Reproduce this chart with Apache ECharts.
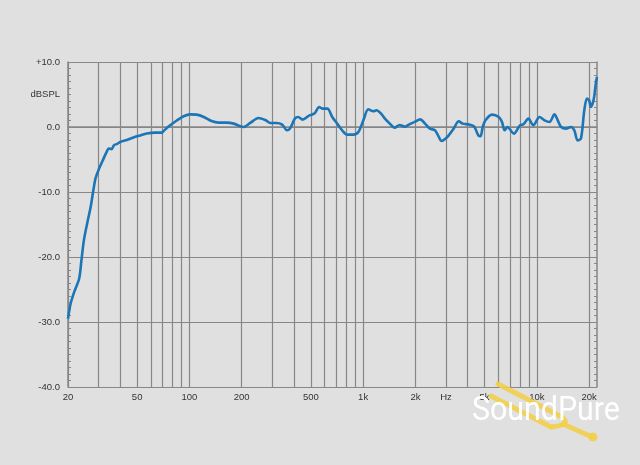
<!DOCTYPE html>
<html>
<head>
<meta charset="utf-8">
<script src="https://cdn.jsdelivr.net/npm/echarts@6/dist/echarts.min.js"></script>
<style>
html,body{margin:0;padding:0;background:#e0e0e0;}
#c{width:640px;height:465px;}
</style>
</head>
<body>
<div id="c"></div>
<script>
// Frequency (Hz) and level (dBSPL)
var freqs = [20, 20.7, 21.7, 23.2, 23.9, 24.7, 25.8, 27, 28, 28.8, 30.2, 32, 33.7, 34.4, 35.6, 36.8, 38.4, 40, 43.6, 47.6, 52, 56.8, 63.5, 69.2, 71, 77.5, 84.6, 92.6, 101, 110, 121, 134, 147, 164, 180, 195, 205, 224, 250, 275, 292, 317, 342, 364, 379, 405, 423, 448, 491, 524, 559, 583, 623, 664, 709, 757, 808, 880, 939, 1003, 1071, 1145, 1196, 1279, 1335, 1424, 1519, 1622, 1732, 1820, 1993, 2128, 2272, 2426, 2590, 2700, 2830, 2975, 3110, 3320, 3550, 3740, 4080, 4360, 4600, 4740, 4880, 5060, 5520, 6040, 6300, 6520, 6780, 7370, 8000, 8370, 8940, 9540, 10370, 11080, 11830, 12640, 13200, 13800, 14720, 15730, 16430, 17160, 17950, 18760, 19430, 20010, 20450, 21200, 21850, 22200];
var levels = [-29.5, -27.2, -25.4, -23.3, -20.5, -17.4, -14.8, -12.3, -9.7, -7.9, -6.4, -4.9, -3.6, -3.3, -3.4, -2.8, -2.6, -2.3, -2.0, -1.6, -1.3, -1.0, -0.86, -0.86, -0.6, 0.26, 1.0, 1.65, 1.95, 1.9, 1.54, 0.92, 0.68, 0.68, 0.52, 0.15, 0.0, 0.62, 1.38, 1.03, 0.62, 0.62, 0.37, -0.5, -0.25, 1.29, 1.54, 1.14, 1.8, 2.06, 3.08, 2.83, 2.83, 1.54, 0.52, -0.5, -1.17, -1.17, -0.77, 1.03, 2.72, 2.42, 2.57, 1.95, 1.29, 0.52, -0.1, 0.31, 0.06, 0.31, 0.83, 1.18, 0.52, -0.25, -0.5, -1.28, -2.15, -1.8, -1.28, -0.25, 0.88, 0.52, 0.37, 0.06, -1.28, -1.43, 0.0, 1.03, 1.9, 1.54, 0.77, -0.5, 0.0, -1.02, 0.26, 0.42, 1.29, 0.26, 1.54, 1.03, 0.77, 1.95, 1.03, 0.0, -0.25, 0.0, -0.5, -2.05, -1.78, 2.57, 4.37, 4.1, 3.08, 4.1, 6.68, 7.7];

var gridFreqs = [20, 30, 40, 50, 60, 70, 80, 90, 100, 200, 300, 400, 500, 600, 700, 800, 900, 1000, 2000, 3000, 4000, 5000, 6000, 7000, 8000, 9000, 10000, 20000];
var xLabelFreqs = [20, 50, 100, 200, 500, 1000, 2000, 3000, 5000, 10000, 20000];
var xLabelTexts = ['20', '50', '100', '200', '500', '1k', '2k', 'Hz', '5k', '10k', '20k'];
var yLabelValues = [-40, -30, -20, -10, 0, 5, 10];
var yLabelTexts = ['-40.0', '-30.0', '-20.0', '-10.0', '0.0', 'dBSPL', '+10.0'];

var fMin = 20, fMax = 22200;
var lg = function (v) { return Math.log10(v); };

var seriesData = freqs.map(function (f, i) { return [lg(f), levels[i]]; });

function xLabel(v) {
  for (var i = 0; i < xLabelFreqs.length; i++) {
    if (Math.abs(lg(xLabelFreqs[i]) - v) < 1e-6) return xLabelTexts[i];
  }
  return '';
}
function yLabel(v) {
  for (var i = 0; i < yLabelValues.length; i++) {
    if (Math.abs(yLabelValues[i] - v) < 1e-6) return yLabelTexts[i];
  }
  return '';
}

var lineCol = '#878787';
var font = 'Liberation Sans, Arial, sans-serif';
var chart = echarts.init(document.getElementById('c'), null, {renderer: 'canvas'});
chart.setOption({
  backgroundColor: '#e0e0e0',
  animation: false,
  grid: {left: 68, right: 43, top: 62, bottom: 78, containLabel: false},
  xAxis: {
    type: 'value',
    min: lg(fMin),
    max: lg(fMax),
    axisLine: {show: true, lineStyle: {color: lineCol, width: 1.5}},
    axisTick: {show: false, customValues: gridFreqs.map(lg)},
    splitLine: {show: true, lineStyle: {color: lineCol, width: 1.2}},
    axisLabel: {
      customValues: xLabelFreqs.map(lg),
      formatter: xLabel,
      color: '#333', fontSize: 9.5, fontFamily: font, margin: 5
    }
  },
  yAxis: [{
    type: 'value', min: -40, max: 10, interval: 10,
    axisLine: {show: true, lineStyle: {color: lineCol, width: 1.5}},
    axisTick: {show: true, inside: true, length: 3, lineStyle: {color: lineCol}},
    minorTick: {show: true, splitNumber: 10, length: 3, lineStyle: {color: lineCol}},
    splitLine: {show: true, lineStyle: {color: lineCol, width: 1.2}},
    axisLabel: {
      customValues: yLabelValues,
      formatter: yLabel,
      color: '#333', fontSize: 9.5, fontFamily: font, margin: 8
    }
  }, {
    type: 'value', min: -40, max: 10, interval: 10, position: 'right',
    axisLine: {show: true, lineStyle: {color: lineCol, width: 1.5}},
    axisTick: {show: true, inside: true, length: 3, lineStyle: {color: lineCol}},
    minorTick: {show: true, splitNumber: 10, length: 3, lineStyle: {color: lineCol}},
    splitLine: {show: false},
    axisLabel: {show: false}
  }],
  series: [{
    type: 'line',
    data: seriesData,
    showSymbol: false,
    smooth: 0.3,
    lineStyle: {color: '#1b75b6', width: 2.6},
    z: 5
  }],
  graphic: [
    {type: 'polyline', z: 10, shape: {points: [[498, 384], [562, 417]]}, style: {stroke: '#f2cf4a', lineWidth: 5, lineCap: 'round', opacity: 0.9}},
    {type: 'polyline', z: 10, shape: {points: [[491, 396], [551, 427]]}, style: {stroke: '#f2cf4a', lineWidth: 5, lineCap: 'round', opacity: 0.9}},
    {type: 'bezierCurve', z: 10, shape: {x1: 562, y1: 417, x2: 551, y2: 427, cpx1: 572, cpy1: 425}, style: {stroke: '#f2cf4a', lineWidth: 5, fill: null, opacity: 0.9}},
    {type: 'polyline', z: 10, shape: {points: [[563, 424], [592, 437]]}, style: {stroke: '#f2cf4a', lineWidth: 5, lineCap: 'round', opacity: 0.9}},
    {type: 'circle', z: 10, shape: {cx: 593, cy: 437, r: 4.5}, style: {fill: '#f2cf4a', opacity: 0.9}},
    {type: 'text', z: 11, x: 472, y: 412, scaleX: 0.92,
     style: {text: 'SoundPure', fill: '#ffffff', font: '33px Roboto, sans-serif', verticalAlign: 'middle', textVerticalAlign: 'middle',
             shadowColor: 'rgba(0,0,0,0.35)', shadowBlur: 4, shadowOffsetX: 1, shadowOffsetY: 1}}
  ]
});
</script>
</body>
</html>
